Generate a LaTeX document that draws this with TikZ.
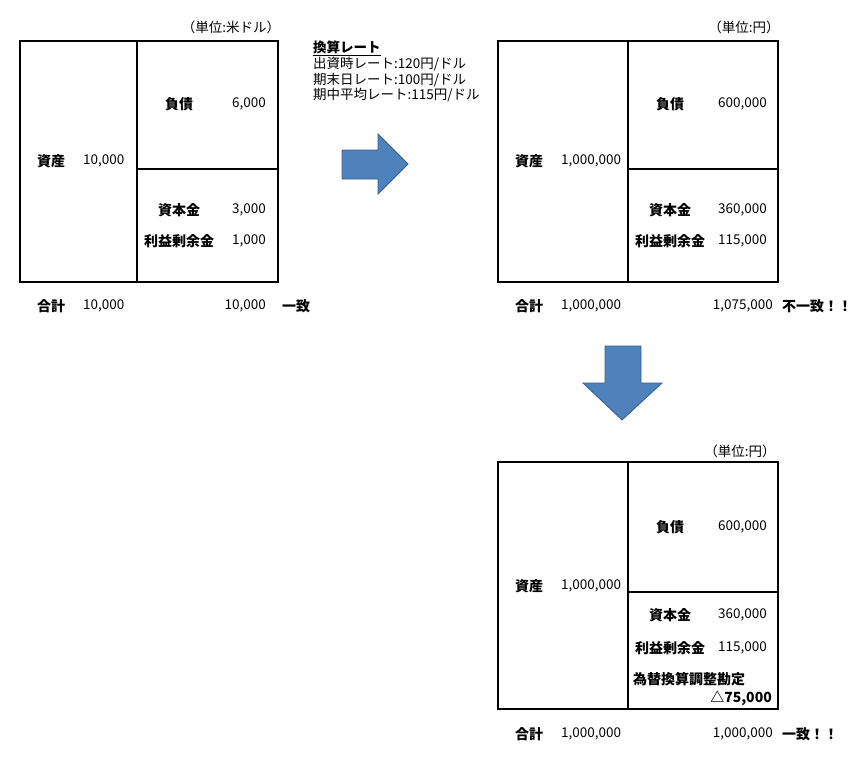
\documentclass[tikz,border=0pt]{standalone}
\usepackage{fontspec}
\setmainfont{Noto Sans CJK JP}
\begin{document}
\begin{tikzpicture}[x=1pt,y=-1pt,
  lab/.style={font=\fontsize{14}{16}\selectfont\bfseries,inner sep=0pt},
  num/.style={font=\fontsize{13.5}{15}\selectfont,inner sep=0pt},
  unit/.style={font=\fontsize{13.5}{15}\selectfont,inner sep=0pt},
  frame/.style={line width=1.6pt},
  blockarrow/.style={fill={rgb,255:red,79;green,129;blue,189},draw={rgb,255:red,56;green,93;blue,138},line width=0.8pt,line join=miter}]
\useasboundingbox (0,0) rectangle (860,771);
\draw[frame] (20,41) rectangle (278,282) (137,41) -- (137,282) (137,169) -- (278,169);
\draw[frame] (498,41) rectangle (778,282) (628,41) -- (628,282) (628,169) -- (778,169);
\draw[frame] (498,462) rectangle (778,709) (628,462) -- (628,709) (628,592) -- (778,592);

\node[unit] (u1) at (231,27) {（単位:米ドル）};
\node[lab] (a1) at (51,161) {資産};
\node[num,anchor=west] (av1) at (83,161) {10,000};
\node[lab] (l1) at (179,104) {負債};
\node[num,anchor=east] (lv1) at (266,104) {6,000};
\node[lab] (c1) at (179,210) {資本金};
\node[num,anchor=east] (cv1) at (266,210) {3,000};
\node[lab] (r1) at (179,241) {利益剰余金};
\node[num,anchor=east] (rv1) at (266,241) {1,000};
\node[lab] (t1) at (51,306) {合計};
\node[num,anchor=west] (tv1) at (83,306) {10,000};
\node[num,anchor=east] (tr1) at (266,306) {10,000};
\node[lab,anchor=west] (m1) at (282,306) {一致};

\node[font=\fontsize{13.5}{15.7}\selectfont,align=left,anchor=north west,inner sep=0pt] (rate) at (313,41)
  {\textbf{\underline{換算レート}}\\出資時レート:120円/ドル\\期末日レート:100円/ドル\\期中平均レート:115円/ドル};
\draw[blockarrow] (342,150) -- (378,150) -- (378,134) -- (408,164) -- (378,194) -- (378,179) -- (342,179) -- cycle;

\node[unit] (u2) at (744,27) {（単位:円）};
\node[lab] (a2) at (529,161) {資産};
\node[num,anchor=west] (av2) at (561,161) {1,000,000};
\node[lab] (l2) at (670,104) {負債};
\node[num,anchor=east] (lv2) at (767,104) {600,000};
\node[lab] (c2) at (670,210) {資本金};
\node[num,anchor=east] (cv2) at (767,210) {360,000};
\node[lab] (r2) at (670,241) {利益剰余金};
\node[num,anchor=east] (rv2) at (767,241) {115,000};
\node[lab] (t2) at (529,306) {合計};
\node[num,anchor=west] (tv2) at (561,306) {1,000,000};
\node[num,anchor=east] (tr2) at (773,306) {1,075,000};
\node[lab,anchor=west] (m2) at (782,306) {不一致！！};

\draw[blockarrow] (605,346) -- (641,346) -- (641,383) -- (662,383) -- (622,420) -- (583,383) -- (605,383) -- cycle;

\node[unit] (u3) at (740,451) {（単位:円）};
\node[lab] (a3) at (529,586) {資産};
\node[num,anchor=west] (av3) at (561,586) {1,000,000};
\node[lab] (l3) at (670,527) {負債};
\node[num,anchor=east] (lv3) at (767,527) {600,000};
\node[lab] (c3) at (670,615) {資本金};
\node[num,anchor=east] (cv3) at (767,615) {360,000};
\node[lab] (r3) at (670,648) {利益剰余金};
\node[num,anchor=east] (rv3) at (767,648) {115,000};
\node[lab,anchor=west] (x3) at (633,679) {為替換算調整勘定};
\node[lab,anchor=east] (xv3) at (772,698) {△75,000};
\node[lab] (t3) at (529,734) {合計};
\node[num,anchor=west] (tv3) at (561,734) {1,000,000};
\node[num,anchor=east] (tr3) at (773,734) {1,000,000};
\node[lab,anchor=west] (m3) at (782,734) {一致！！};
\end{tikzpicture}
\end{document}
